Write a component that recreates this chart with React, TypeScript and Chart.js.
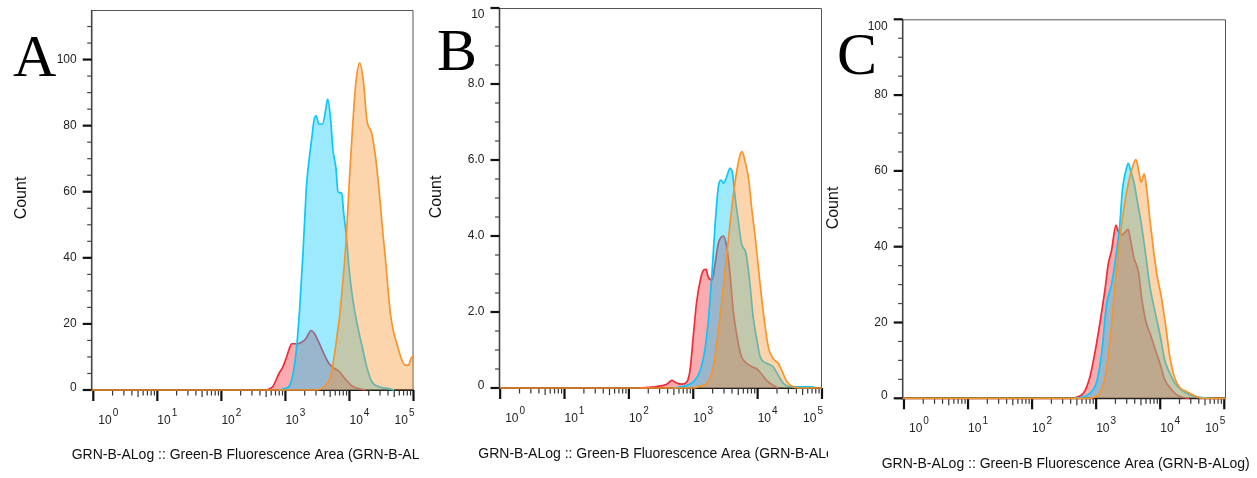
import React, { useEffect, useRef } from 'react';
import { Chart, registerables } from 'chart.js';

Chart.register(...registerables);

const FONT = '"Liberation Sans", Arial, Helvetica, sans-serif';
const SERIF = '"Liberation Serif", "Times New Roman", serif';

const RED_LINE = 'rgb(240,45,55)';
const RED_FILL = 'rgba(240,45,55,0.4)';
const BLUE_LINE = 'rgb(10,200,250)';
const BLUE_FILL = 'rgba(10,200,250,0.4)';
const ORANGE_LINE = 'rgb(248,148,45)';
const ORANGE_FILL = 'rgba(250,150,50,0.4)';

// x values are log10 of fluorescence (decades), y values are counts
// ---------- Panel A ----------
const A_RED_X = [2.70, 2.80, 2.90, 2.96, 3.01, 3.06, 3.10, 3.17, 3.24, 3.32, 3.40, 3.45, 3.52, 3.60, 3.68, 3.76, 3.84, 3.94, 4.04, 4.15, 4.25];
const A_RED_Y = [0, 1, 5, 7, 9.5, 12.5, 14, 14, 14.3, 15.5, 18, 17.2, 14.5, 11, 8, 6.6, 5.6, 3.2, 1.2, 0.4, 0];
const A_BLUE_X = [2.90, 3.00, 3.07, 3.12, 3.17, 3.22, 3.27, 3.31, 3.33, 3.36, 3.41, 3.45, 3.48, 3.52, 3.58, 3.63, 3.66, 3.71, 3.74, 3.79, 3.82, 3.88, 3.91, 3.95, 3.99, 4.04, 4.12, 4.20, 4.27, 4.35, 4.46, 4.61, 4.70];
const A_BLUE_Y = [0, 0.5, 1.5, 5, 12, 24, 40, 55, 62, 68, 76, 82, 83, 80.5, 80.5, 85, 88, 81, 73, 67, 60, 59.5, 53.5, 47, 37.5, 29, 20, 13, 7, 2.5, 1, 0.4, 0];
const A_ORANGE_X = [-0.025, 3.45, 3.55, 3.65, 3.71, 3.76, 3.81, 3.85, 3.88, 3.92, 3.95, 4.00, 4.05, 4.10, 4.16, 4.22, 4.27, 4.35, 4.41, 4.47, 4.51, 4.56, 4.64, 4.69, 4.74, 4.82, 4.87, 4.92, 4.96, 5.0];
const A_ORANGE_Y = [0, 0, 0.3, 2, 4.5, 10, 17, 23, 29, 38, 46, 64, 80, 93, 99, 93, 82, 77.5, 70, 59, 50, 40, 23, 17.5, 14, 9, 7.5, 7.5, 9.5, 10.5];
const A_Y_TICKS = [0, 20, 40, 60, 80, 100];
const A_Y_LABELS = ['0', '20', '40', '60', '80', '100'];

// ---------- Panel B ----------
const B_RED_X = [2.17, 2.43, 2.59, 2.67, 2.74, 2.82, 2.90, 2.95, 3.00, 3.05, 3.11, 3.16, 3.20, 3.23, 3.29, 3.34, 3.39, 3.47, 3.52, 3.57, 3.62, 3.68, 3.75, 3.83, 3.91, 3.99, 4.06, 4.14, 4.24, 4.32];
const B_RED_Y = [0, 0.04, 0.1, 0.2, 0.13, 0.1, 0.16, 0.47, 1.35, 2.23, 2.84, 3.1, 3.12, 2.93, 2.84, 3.28, 3.81, 4.0, 3.72, 3.02, 2.05, 1.35, 0.82, 0.65, 0.56, 0.5, 0.37, 0.2, 0.07, 0];
const B_BLUE_X = [2.69, 2.90, 3.00, 3.11, 3.18, 3.23, 3.29, 3.34, 3.39, 3.43, 3.47, 3.52, 3.57, 3.61, 3.65, 3.70, 3.75, 3.82, 3.88, 3.93, 3.99, 4.04, 4.14, 4.24, 4.32, 4.40, 4.50, 4.87];
const B_BLUE_Y = [0, 0.07, 0.16, 0.47, 1.0, 1.7, 3.0, 4.33, 5.3, 5.47, 5.39, 5.56, 5.78, 5.65, 5.03, 4.4, 3.8, 3.54, 2.75, 1.88, 1.26, 0.82, 0.65, 0.56, 0.34, 0.12, 0.04, 0.03];
const B_ORANGE_X = [-0.01, 3.00, 3.10, 3.21, 3.31, 3.39, 3.47, 3.52, 3.57, 3.62, 3.68, 3.73, 3.76, 3.80, 3.86, 3.91, 3.96, 4.01, 4.06, 4.11, 4.17, 4.24, 4.32, 4.37, 4.45, 4.55, 4.65, 5.0];
const B_ORANGE_Y = [0, 0, 0.05, 0.12, 0.55, 1.5, 2.7, 3.5, 4.3, 5.05, 5.75, 6.15, 6.22, 6.0, 5.5, 4.7, 4.0, 3.2, 2.4, 1.7, 1.05, 0.78, 0.65, 0.48, 0.18, 0.03, 0, 0];
const B_Y_TICKS = [0, 2, 4, 6, 8, 10];
const B_Y_LABELS = ['0', '2.0', '4.0', '6.0', '8.0', '10'];

// ---------- Panel C ----------
const C_RED_X = [2.64, 2.80, 2.90, 2.98, 3.06, 3.14, 3.19, 3.24, 3.31, 3.34, 3.40, 3.45, 3.50, 3.54, 3.59, 3.66, 3.71, 3.78, 3.84, 3.92, 4.00, 4.07, 4.15, 4.26, 4.36, 4.45];
const C_RED_Y = [0, 1.3, 5.5, 12, 20, 29, 35.5, 39, 45.7, 44.2, 43.2, 43.8, 44.6, 41.5, 37, 33.4, 26.5, 20, 17.2, 13, 9, 5, 2.8, 0.9, 0.2, 0];
const C_BLUE_X = [2.65, 2.75, 2.90, 3.01, 3.09, 3.16, 3.24, 3.32, 3.37, 3.41, 3.47, 3.50, 3.54, 3.59, 3.64, 3.71, 3.78, 3.84, 3.92, 4.00, 4.07, 4.15, 4.23, 4.33, 4.44, 4.57, 4.72, 4.78];
const C_BLUE_Y = [0, 0.2, 1.3, 4.5, 12.5, 24.5, 30, 39, 46, 55, 60.5, 62, 60, 57, 52.3, 45.5, 37, 29.4, 22.8, 16.5, 10.1, 6.6, 4, 2.2, 1.1, 0.4, 0.1, 0.05];
const C_ORANGE_X = [-0.02, 2.90, 2.98, 3.06, 3.14, 3.22, 3.29, 3.37, 3.45, 3.50, 3.55, 3.62, 3.67, 3.70, 3.75, 3.79, 3.84, 3.90, 3.95, 4.02, 4.09, 4.15, 4.23, 4.31, 4.41, 4.52, 4.62, 4.70, 5.027];
const C_ORANGE_Y = [0, 0, 0.4, 1.5, 5.5, 15.5, 29, 42, 52, 56.5, 60, 63, 59.5, 57, 59.2, 55, 47, 38.5, 32.5, 26.5, 18.5, 11, 5.2, 2.8, 1.8, 0.8, 0.1, 0, 0];
const C_Y_TICKS = [0, 20, 40, 60, 80, 100];
const C_Y_LABELS = ['0', '20', '40', '60', '80', '100'];

// ---------- shared axis text ----------
const X_DECADES = [0, 1, 2, 3, 4, 5];
const X_BASE_LABEL = '10';
const X_SUP_LABELS = ['0', '1', '2', '3', '4', '5'];
const Y_TITLE = 'Count';
const X_TITLE = 'GRN-B-ALog :: Green-B Fluorescence Area (GRN-B-ALog)';

type Series = { xs: number[]; ys: number[]; line: string; fill: string; order: number };
type PanelCfg = {
  letter: string;
  left: number;
  width: number;
  pad: { left: number; right: number; top: number; bottom: number };
  xMin: number;
  xMax: number;
  yMax: number;
  yTicks: number[];
  yLabels: string[];
  yMinorStep: number;
  series: Series[];
  letterPos: [number, number];
  countPos: [number, number];
  titlePos: [number, number];
};

const mkSeries = (r: [number[], number[]], b: [number[], number[]], o: [number[], number[]]): Series[] => [
  { xs: o[0], ys: o[1], line: ORANGE_LINE, fill: ORANGE_FILL, order: 0 },
  { xs: b[0], ys: b[1], line: BLUE_LINE, fill: BLUE_FILL, order: 1 },
  { xs: r[0], ys: r[1], line: RED_LINE, fill: RED_FILL, order: 2 },
];

const PANELS: PanelCfg[] = [
  {
    letter: 'A', left: 0, width: 419,
    pad: { left: 91.7, right: 5.5, top: 10, bottom: 88 },
    xMin: -0.025, xMax: 5.0, yMax: 115,
    yTicks: A_Y_TICKS, yLabels: A_Y_LABELS, yMinorStep: 5,
    series: mkSeries([A_RED_X, A_RED_Y], [A_BLUE_X, A_BLUE_Y], [A_ORANGE_X, A_ORANGE_Y]),
    letterPos: [13, 76], countPos: [21.5, 198], titlePos: [71.7, 459],
  },
  {
    letter: 'B', left: 419, width: 409,
    pad: { left: 80.5, right: 6, top: 8, bottom: 90 },
    xMin: -0.01, xMax: 5.0, yMax: 10,
    yTicks: B_Y_TICKS, yLabels: B_Y_LABELS, yMinorStep: 0.5,
    series: mkSeries([B_RED_X, B_RED_Y], [B_BLUE_X, B_BLUE_Y], [B_ORANGE_X, B_ORANGE_Y]),
    letterPos: [18, 70], countPos: [18, 197], titlePos: [59.3, 458],
  },
  {
    letter: 'C', left: 820, width: 437,
    pad: { left: 82.7, right: 31, top: 19.3, bottom: 79.7 },
    xMin: -0.02, xMax: 5.027, yMax: 100,
    yTicks: C_Y_TICKS, yLabels: C_Y_LABELS, yMinorStep: 5,
    series: mkSeries([C_RED_X, C_RED_Y], [C_BLUE_X, C_BLUE_Y], [C_ORANGE_X, C_ORANGE_Y]),
    letterPos: [17, 74], countPos: [13.5, 208], titlePos: [61.7, 468],
  },
];

function makeAxesPlugin(cfg: PanelCfg) {
  return {
    id: 'flowAxes' + cfg.letter,
    beforeDatasetsDraw(chart: any) {
      const ctx: CanvasRenderingContext2D = chart.ctx;
      const { left, right, top, bottom } = chart.chartArea;
      const xs = chart.scales.x;
      const ys = chart.scales.y;
      const seg = (x1: number, y1: number, x2: number, y2: number) => {
        ctx.beginPath();
        ctx.moveTo(x1, y1);
        ctx.lineTo(x2, y2);
        ctx.stroke();
      };
      ctx.save();

      // panel letter
      ctx.fillStyle = '#000';
      ctx.font = `60px ${SERIF}`;
      ctx.textAlign = 'left';
      ctx.textBaseline = 'alphabetic';
      ctx.fillText(cfg.letter, cfg.letterPos[0], cfg.letterPos[1]);

      // frame top/right
      ctx.strokeStyle = '#555';
      ctx.lineWidth = 1;
      ctx.beginPath();
      ctx.moveTo(left, top + 0.5);
      ctx.lineTo(right - 0.5, top + 0.5);
      ctx.lineTo(right - 0.5, bottom);
      ctx.stroke();

      // y axis line
      ctx.strokeStyle = '#444';
      ctx.lineWidth = 1.6;
      seg(left, top, left, bottom + 1);

      // y minor ticks
      ctx.strokeStyle = '#444';
      ctx.lineWidth = 1.2;
      for (let v = cfg.yMinorStep; v < cfg.yMax - 1e-9; v += cfg.yMinorStep) {
        if (cfg.yTicks.some((m) => Math.abs(m - v) < 1e-6)) continue;
        const py = ys.getPixelForValue(v);
        seg(left - 4.5, py, left, py);
      }
      // y major ticks + labels
      ctx.font = `12px ${FONT}`;
      ctx.fillStyle = '#222';
      ctx.textAlign = 'right';
      cfg.yTicks.forEach((v, i) => {
        const py = ys.getPixelForValue(v);
        ctx.strokeStyle = '#111';
        ctx.lineWidth = 2.2;
        seg(left - 9, py, left, py);
        let ty = py;
        if (i === 0) {
          ctx.textBaseline = 'alphabetic';
          ty = py + 1;
        } else if (v >= cfg.yMax - 1e-6) {
          ctx.textBaseline = 'top';
          ty = py + 1;
        } else {
          ctx.textBaseline = 'middle';
        }
        ctx.fillText(cfg.yLabels[i], left - 15, ty);
      });

      // x axis line
      ctx.strokeStyle = '#222';
      ctx.lineWidth = 2;
      seg(left - 2, bottom, right, bottom);

      // x minor ticks
      ctx.lineWidth = 1.2;
      ctx.strokeStyle = '#333';
      for (let d = 0; d < 5; d++) {
        for (let m = 2; m <= 9; m++) {
          const px = xs.getPixelForValue(d + Math.log10(m));
          seg(px, bottom, px, bottom + (m === 5 ? 7 : 5.5));
        }
      }
      // x major ticks + labels
      X_DECADES.forEach((d, i) => {
        const px = xs.getPixelForValue(d);
        ctx.strokeStyle = '#111';
        ctx.lineWidth = 2.2;
        seg(px, bottom, px, bottom + 11);
        ctx.fillStyle = '#222';
        ctx.textAlign = 'left';
        ctx.textBaseline = 'alphabetic';
        ctx.font = `12px ${FONT}`;
        const wb = ctx.measureText(X_BASE_LABEL).width;
        ctx.font = `10px ${FONT}`;
        const ws = ctx.measureText(X_SUP_LABELS[i]).width;
        let x0 = px;
        if (i === 0) x0 = px + 5;
        else if (i === X_DECADES.length - 1) x0 = px - (wb + 1 + ws) + 1;
        ctx.font = `12px ${FONT}`;
        ctx.fillText(X_BASE_LABEL, x0, bottom + 34);
        ctx.font = `10px ${FONT}`;
        ctx.fillText(X_SUP_LABELS[i], x0 + wb + 1, bottom + 26);
      });

      // titles
      ctx.fillStyle = '#111';
      ctx.font = `14px ${FONT}`;
      ctx.textAlign = 'left';
      ctx.textBaseline = 'alphabetic';
      ctx.fillText(X_TITLE, cfg.titlePos[0], cfg.titlePos[1]);

      ctx.save();
      ctx.translate(cfg.countPos[0], cfg.countPos[1]);
      ctx.rotate(-Math.PI / 2);
      ctx.font = `16px ${FONT}`;
      ctx.textAlign = 'center';
      ctx.textBaseline = 'middle';
      ctx.fillText(Y_TITLE, 0, 0);
      ctx.restore();

      ctx.restore();
    },
  };
}

function Panel({ cfg }: { cfg: PanelCfg }) {
  const ref = useRef<HTMLCanvasElement>(null);
  useEffect(() => {
    if (!ref.current) return;
    const chart = new Chart(ref.current, {
      type: 'line',
      data: {
        datasets: cfg.series.map((s) => ({
          data: s.xs.map((x, i) => ({ x, y: s.ys[i] })),
          borderColor: s.line,
          backgroundColor: s.fill,
          borderWidth: 1.7,
          fill: 'origin',
          pointRadius: 0,
          cubicInterpolationMode: 'monotone' as const,
          order: s.order,
          clip: 3,
        })),
      },
      options: {
        responsive: false,
        animation: false,
        devicePixelRatio: 1,
        layout: { padding: cfg.pad },
        plugins: { legend: { display: false }, tooltip: { enabled: false } },
        events: [],
        scales: {
          x: { type: 'linear', min: cfg.xMin, max: cfg.xMax, display: false },
          y: { type: 'linear', min: 0, max: cfg.yMax, display: false },
        },
      },
      plugins: [makeAxesPlugin(cfg)],
    });
    return () => chart.destroy();
  }, [cfg]);
  return (
    <canvas
      ref={ref}
      width={cfg.width}
      height={478}
      style={{ position: 'absolute', left: cfg.left, top: 0, width: cfg.width, height: 478, display: 'block' }}
    />
  );
}

export default function App() {
  return (
    <div style={{ position: 'absolute', left: 0, top: 0, width: 1257, height: 478, background: '#fff', overflow: 'hidden' }}>
      {PANELS.map((p) => (
        <Panel key={p.letter} cfg={p} />
      ))}
    </div>
  );
}
